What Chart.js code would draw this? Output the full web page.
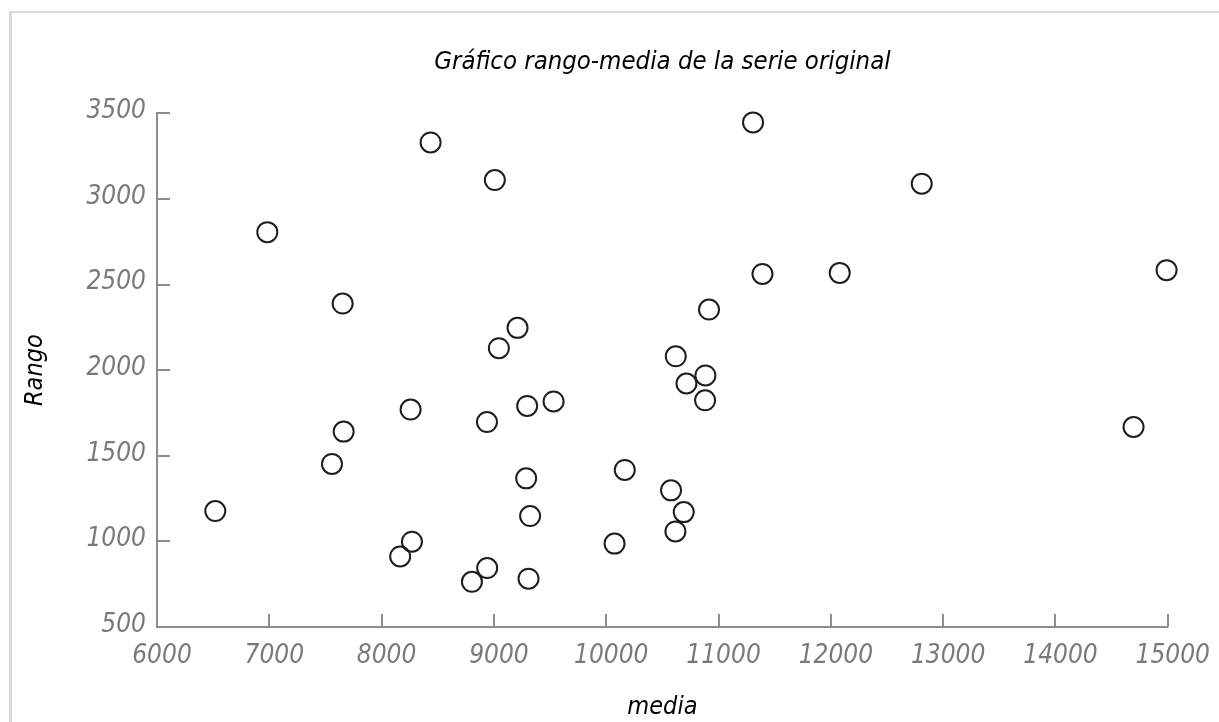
<!DOCTYPE html>
<html>
<head>
<meta charset="utf-8">
<script src="https://cdn.jsdelivr.net/npm/chart.js@4"></script>
<style>
  html, body { margin: 0; padding: 0; background: #fff; }
  #wrap { position: relative; width: 1219px; height: 722px; overflow: hidden; }
  #frame { position: absolute; left: 9px; top: 11px; width: 1300px; height: 800px;
           border-top: 2px solid #d9d9d9; border-left: 3px solid #d9d9d9; }
  canvas { position: absolute; left: 0; top: 0; }
</style>
</head>
<body>
<div id="wrap">
  <div id="frame"></div>
  <canvas id="c" width="1219" height="722"></canvas>
</div>
<script>
// Media (x) y rango (y) de cada submuestra de la serie original
const media = [
  8436, 6982, 7653, 11307, 9008, 11391, 10915, 9210, 9044, 10619,
  12809, 12079, 14989, 8258, 7662, 7558, 6519, 8270, 8165, 8938,
  8940, 8804, 10883, 10714, 10880, 9531, 9296, 9287, 10165, 10577,
  10690, 9322, 10616, 10074, 9308, 14695
];
const rango = [
  3330, 2806, 2389, 3447, 3110, 2562, 2354, 2247, 2128, 2081,
  3089, 2568, 2584, 1770, 1641, 1452, 1177, 998, 912, 1697,
  844, 764, 1969, 1922, 1824, 1817, 1791, 1368, 1417, 1298,
  1171, 1148, 1058, 987, 782, 1668
];
const xTicks = [6000, 7000, 8000, 9000, 10000, 11000, 12000, 13000, 14000, 15000];
const yTicks = [500, 1000, 1500, 2000, 2500, 3000, 3500];

const tituloGrafico = 'Gráfico rango-media de la serie original';
const tituloX = 'media';
const tituloY = 'Rango';

const puntos = media.map((m, i) => ({ x: m, y: rango[i] }));

const FAMILY = "'DejaVu Sans Condensed', 'DejaVu Sans', sans-serif";
const AXIS_COLOR = '#8c8c8c';

// Marcas cortas hacia el interior del área de trazado
const inwardTicks = {
  id: 'inwardTicks',
  afterDraw(chart) {
    const { ctx, chartArea } = chart;
    const len = 13;
    ctx.save();
    ctx.strokeStyle = AXIS_COLOR;
    ctx.lineWidth = 2;
    const xs = chart.scales.x;
    xs.ticks.forEach((t, i) => {
      const px = Math.round(xs.getPixelForTick(i));
      ctx.beginPath();
      ctx.moveTo(px, chartArea.bottom);
      ctx.lineTo(px, chartArea.bottom - len);
      ctx.stroke();
    });
    const ys = chart.scales.y;
    ys.ticks.forEach((t, i) => {
      const py = Math.round(ys.getPixelForTick(i));
      ctx.beginPath();
      ctx.moveTo(chartArea.left, py);
      ctx.lineTo(chartArea.left + len, py);
      ctx.stroke();
    });
    ctx.restore();
  }
};

new Chart(document.getElementById('c'), {
  type: 'scatter',
  data: {
    datasets: [{
      data: puntos,
      clip: false,
      pointStyle: 'circle',
      pointRadius: 10,
      pointHoverRadius: 10,
      pointBorderWidth: 2,
      pointBorderColor: '#1e1e1e',
      pointBackgroundColor: 'rgba(255,255,255,0)'
    }]
  },
  options: {
    responsive: false,
    animation: false,
    layout: { padding: { left: 0, right: 51, top: 0, bottom: 0 } },
    plugins: {
      legend: { display: false },
      tooltip: { enabled: false },
      title: {
        display: true,
        fullSize: false,
        text: tituloGrafico,
        color: '#000',
        font: { family: FAMILY, size: 25.5, style: 'italic', weight: 'normal', lineHeight: 1.2 },
        padding: { top: 47, bottom: 35.7 }
      }
    },
    scales: {
      x: {
        type: 'linear',
        min: 6000,
        max: 15000,
        afterBuildTicks(scale) { scale.ticks = xTicks.map(v => ({ value: v })); },
        afterFit(scale) { scale.height = 95; },
        grid: { display: true, drawOnChartArea: false, drawTicks: false },
        border: { display: true, color: AXIS_COLOR, width: 2 },
        ticks: {
          color: '#7a7a7a',
          padding: 14,
          labelOffset: 5,
          maxRotation: 0,
          autoSkip: false,
          font: { family: FAMILY, size: 26, style: 'italic' },
          callback: v => String(v)
        },
        title: {
          display: true,
          text: tituloX,
          color: '#000',
          font: { family: FAMILY, size: 25, style: 'italic', lineHeight: 1.2 },
          padding: { top: 0, bottom: 0 }
        }
      },
      y: {
        type: 'linear',
        min: 500,
        max: 3500,
        afterBuildTicks(scale) { scale.ticks = yTicks.map(v => ({ value: v })); },
        afterFit(scale) { scale.width = 157; },
        grid: { display: true, drawOnChartArea: false, drawTicks: false },
        border: { display: true, color: AXIS_COLOR, width: 2 },
        ticks: {
          color: '#7a7a7a',
          padding: 11,
          labelOffset: -2,
          autoSkip: false,
          font: { family: FAMILY, size: 26, style: 'italic' },
          callback: v => String(v)
        },
        title: {
          display: true,
          text: tituloY,
          color: '#000',
          font: { family: FAMILY, size: 25, style: 'italic', lineHeight: 1.2 },
          padding: { top: 20, bottom: 0 }
        }
      }
    }
  },
  plugins: [inwardTicks]
});
</script>
</body>
</html>
